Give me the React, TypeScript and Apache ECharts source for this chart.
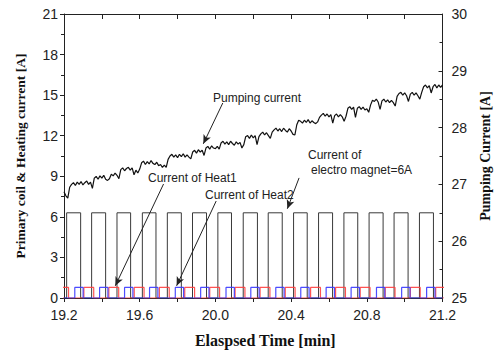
import React, { useEffect, useRef } from "react";
import * as echarts from "echarts";

// Electro magnet current square wave (min)
const emRise = [19.214, 19.346, 19.48, 19.614, 19.746, 19.879, 20.013, 20.147, 20.279, 20.413, 20.545, 20.679, 20.812, 20.944, 21.078];
const emFall = [19.288, 19.42, 19.552, 19.686, 19.82, 19.953, 20.085, 20.222, 20.353, 20.485, 20.619, 20.752, 20.886, 21.018, 21.152];
const emLevel = 6.3;

// Heat1 (red) pulses
const heat1Start = [19.172, 19.305, 19.437, 19.571, 19.704, 19.838, 19.97, 20.104, 20.236, 20.369, 20.503, 20.635, 20.765, 20.897, 21.03, 21.164];
const heat1End = [19.224, 19.357, 19.489, 19.623, 19.756, 19.89, 20.022, 20.156, 20.288, 20.421, 20.555, 20.687, 20.817, 20.949, 21.082, 21.216];
// Heat2 (blue) pulses
const heat2Start = [19.257, 19.388, 19.52, 19.652, 19.788, 19.922, 20.056, 20.187, 20.319, 20.451, 20.585, 20.717, 20.851, 20.984, 21.116];
const heat2End = [19.301, 19.432, 19.564, 19.696, 19.832, 19.966, 20.1, 20.231, 20.363, 20.495, 20.629, 20.761, 20.895, 21.028, 21.16];
const heatLevel = 0.78;

// Pumping current [A], sampled every 0.01 min from 19.2
const pumpStart = 19.2;
const pumpStep = 0.01;
const pumpValues = [
  26.87, 26.8, 26.76, 26.95, 27.0, 27.03, 26.98, 27.04, 27.0, 27.05,
  26.99, 27.03, 27.06, 27.0, 27.04, 26.93, 27.11, 27.14, 27.09, 27.15,
  27.11, 27.16, 27.09, 27.07, 27.1, 27.18, 27.15, 27.2, 27.16, 27.1,
  27.26, 27.29, 27.24, 27.28, 27.3, 27.25, 27.29, 27.17, 27.25, 27.2,
  27.27, 27.38, 27.41, 27.35, 27.4, 27.36, 27.42, 27.37, 27.35, 27.39,
  27.33, 27.35, 27.3, 27.34, 27.3, 27.44, 27.5, 27.53, 27.48, 27.52,
  27.47, 27.53, 27.49, 27.54, 27.48, 27.52, 27.48, 27.45, 27.57, 27.6,
  27.55, 27.61, 27.57, 27.6, 27.51, 27.64, 27.67, 27.62, 27.68, 27.64,
  27.63, 27.67, 27.62, 27.73, 27.76, 27.71, 27.75, 27.7, 27.76, 27.72,
  27.69, 27.75, 27.71, 27.74, 27.64, 27.7, 27.84, 27.86, 27.81, 27.87,
  27.82, 27.86, 27.7, 27.84, 27.89, 27.92, 27.87, 27.91, 27.86, 27.81,
  27.92, 27.96, 27.99, 27.94, 27.98, 27.93, 27.99, 27.95, 27.92, 27.98,
  27.94, 27.88, 27.87, 28.05, 28.13, 28.11, 28.08, 28.13, 28.09, 28.14,
  28.08, 28.12, 28.09, 28.07, 28.1, 28.18, 28.22, 28.25, 28.2, 28.24,
  28.19, 28.23, 28.08, 28.21, 28.24, 28.19, 28.23, 28.19, 28.11, 28.2,
  28.34, 28.37, 28.32, 28.36, 28.18, 28.34, 28.37, 28.32, 28.36, 28.31,
  28.33, 28.27, 28.4, 28.48, 28.46, 28.5, 28.45, 28.32, 28.47, 28.5,
  28.45, 28.49, 28.44, 28.48, 28.44, 28.38, 28.55, 28.6, 28.62, 28.57,
  28.61, 28.56, 28.46, 28.59, 28.62, 28.57, 28.61, 28.56, 28.5, 28.62,
  28.72, 28.75, 28.7, 28.74, 28.61, 28.72, 28.76, 28.7, 28.75, 28.71,
  28.75,
];

const xMin = 19.2;
const xMax = 21.2;

function pulses(starts: number[], ends: number[], level: number, from: number, to: number) {
  const out: number[][] = [[from, 0]];
  for (let i = 0; i < starts.length; i++) {
    out.push([starts[i], 0], [starts[i], level], [ends[i], level], [ends[i], 0]);
  }
  out.push([to, 0]);
  return out;
}

const FONT_SANS = '"Liberation Sans", Arial, sans-serif';
const FONT_SERIF = '"Liberation Serif", "Times New Roman", serif';
const AX = "#222";

export default function App() {
  const ref = useRef<HTMLDivElement>(null);
  useEffect(() => {
    if (!ref.current) return;
    const chart = echarts.init(ref.current, null, { renderer: "svg" });
    const pumpData = pumpValues.map((v, i) => [+(pumpStart + i * pumpStep).toFixed(3), v]);
    const emData = pulses(emRise, emFall, emLevel, xMin, xMax);
    const h1Data = pulses(heat1Start, heat1End, heatLevel, xMin, xMax);
    const h2Data = pulses(heat2Start, heat2End, heatLevel, xMin, xMax);

    const axisLine = { show: true, onZero: false, lineStyle: { color: AX, width: 1 } };
    const labelStyle = { fontFamily: FONT_SANS, fontSize: 14, color: AX };
    const nameStyle = { fontFamily: FONT_SERIF, fontWeight: "bold", fontSize: 14, color: "#111" };

    const option: any = {
      animation: false,
      backgroundColor: "#fff",
      grid: { left: 64, right: 48, top: 14, bottom: 55 },
      xAxis: [
        {
          type: "value", min: xMin, max: xMax, interval: 0.4, position: "bottom",
          name: "Elaspsed Time [min]", nameLocation: "middle", nameGap: 34,
          nameTextStyle: { ...nameStyle, fontSize: 16, padding: [0, 0, 0, 24] },
          axisLine, axisTick: { show: true, inside: false, length: 4, lineStyle: { color: AX } },
          minorTick: { show: true, splitNumber: 2, length: 4, lineStyle: { color: AX } },
          axisLabel: { ...labelStyle, margin: 10, formatter: (v: number) => v.toFixed(1) },
          splitLine: { show: false },
        },
        {
          type: "value", min: xMin, max: xMax, interval: 0.2, position: "top",
          axisLine, axisTick: { show: true, inside: true, length: 5, lineStyle: { color: AX } },
          axisLabel: { show: false }, splitLine: { show: false },
        },
      ],
      yAxis: [
        {
          type: "value", min: 0, max: 21, interval: 3, position: "left",
          name: "Primary coil & Heating current [A]", nameLocation: "middle", nameGap: 37,
          nameTextStyle: { ...nameStyle, fontSize: 13.5 },
          axisLine, axisTick: { show: true, inside: false, length: 4, lineStyle: { color: AX } },
          minorTick: { show: true, splitNumber: 2, length: 3, lineStyle: { color: AX } },
          axisLabel: { ...labelStyle, margin: 6 },
          splitLine: { show: false },
        },
        {
          type: "value", min: 25, max: 30, interval: 1, position: "right",
          name: "Pumping Current [A]", nameLocation: "middle", nameGap: 32,
          nameTextStyle: nameStyle,
          axisLine, axisTick: { show: true, inside: true, length: 4, lineStyle: { color: AX } },
          minorTick: { show: true, splitNumber: 2, length: 3, lineStyle: { color: AX } },
          axisLabel: { ...labelStyle, margin: 9 },
          splitLine: { show: false },
        },
      ],
      series: [
        {
          name: "Electro magnet", type: "line", xAxisIndex: 0, yAxisIndex: 0, data: emData,
          showSymbol: false, symbol: "none", lineStyle: { color: "#3a3a3a", width: 1 }, z: 2,
          markLine: {
            silent: true, symbol: ["none", "arrow"], symbolSize: [6, 9],
            lineStyle: { color: "#222", width: 1, type: "solid" }, label: { show: false },
            data: [
              [{ coord: [20.039, 14.42] }, { coord: [19.936, 11.4] }],
              [{ coord: [19.726, 8.43] }, { coord: [19.471, 0.9] }],
              [{ coord: [20.004, 7.17] }, { coord: [19.795, 0.9] }],
              [{ coord: [20.442, 8.88] }, { coord: [20.38, 6.6] }],
            ],
          },
        },
        {
          name: "Heat1", type: "line", xAxisIndex: 0, yAxisIndex: 0, data: h1Data,
          showSymbol: false, symbol: "none", lineStyle: { color: "#ff4040", width: 1.2, opacity: 0.9 }, z: 3,
        },
        {
          name: "Heat2", type: "line", xAxisIndex: 0, yAxisIndex: 0, data: h2Data,
          showSymbol: false, symbol: "none", lineStyle: { color: "#3838ff", width: 1.2, opacity: 0.9 }, z: 4,
        },
        {
          name: "Pumping current", type: "line", xAxisIndex: 0, yAxisIndex: 1, data: pumpData,
          showSymbol: false, symbol: "none", lineStyle: { color: "#111", width: 1.2 }, z: 5,
        },
      ],
      graphic: [
        { type: "text", x: 213, y: 98, style: { text: "Pumping current", font: `12px ${FONT_SANS}`, fill: AX, verticalAlign: "middle" } },
        { type: "text", x: 148, y: 178, style: { text: "Current of Heat1", font: `12px ${FONT_SANS}`, fill: AX, verticalAlign: "middle" } },
        { type: "text", x: 205, y: 195, style: { text: "Current of Heat2", font: `12px ${FONT_SANS}`, fill: AX, verticalAlign: "middle" } },
        { type: "text", x: 308, y: 155, style: { text: "Current of", font: `12px ${FONT_SANS}`, fill: AX, verticalAlign: "middle" } },
        { type: "text", x: 311, y: 170, style: { text: "electro magnet=6A", font: `12px ${FONT_SANS}`, fill: AX, verticalAlign: "middle" } },
      ],
    };
    chart.setOption(option);
    return () => chart.dispose();
  }, []);
  return <div ref={ref} style={{ width: 500, height: 353, position: "absolute", left: 0, top: 0 }} />;
}
